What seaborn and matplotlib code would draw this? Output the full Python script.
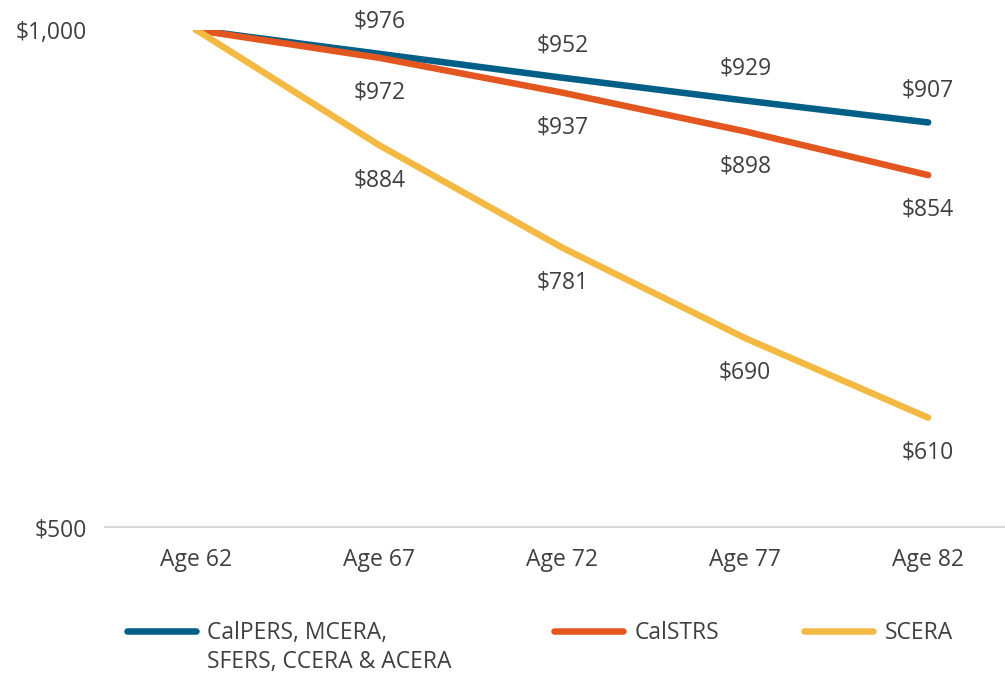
import matplotlib.pyplot as plt
import pandas as pd
import seaborn as sns

ages = ["Age 62", "Age 67", "Age 72", "Age 77", "Age 82"]
calpers = [1000, 976, 952, 929, 907]
calstrs = [1000, 972, 937, 898, 854]
scera = [1000, 884, 781, 690, 610]

series_names = ["CalPERS, MCERA,", "CalSTRS", "SCERA"]
first_extra_line = "SFERS, CCERA & ACERA"
colors = ["#005F87", "#E4561F", "#F4B942"]

df = pd.DataFrame({
    "age": ages * 3,
    "value": calpers + calstrs + scera,
    "series": [series_names[0]] * 5 + [series_names[1]] * 5 + [series_names[2]] * 5,
})

sns.set_theme(style="white")
plt.rcParams["font.family"] = ["Open Sans", "DejaVu Sans"]
FS = 16.5
TXT = "#404040"

fig = plt.figure(figsize=(10.05, 6.76), dpi=100)
ax = fig.add_axes([105 / 1005, 1 - 527 / 676, 900 / 1005, 497 / 676])

sns.lineplot(
    data=df, x="age", y="value", hue="series", palette=colors,
    linewidth=4.7, sort=False, ax=ax, legend=True,
)
for line in ax.get_lines():
    line.set_solid_capstyle("round")

# value labels: blue above, others below
offsets = [23, -25, -25]
for vals, off in zip([calpers, calstrs, scera], offsets):
    for i, v in enumerate(vals):
        if i == 0:
            continue
        ax.annotate(f"${v}", (i, v), xytext=(0, off), textcoords="offset points",
                    ha="center", va="center", fontsize=FS, color=TXT)

ax.set_xlim(-0.5, 4.42)
ax.set_ylim(500, 1000)
ax.set_yticks([500, 1000])
ax.set_yticklabels(["$500", "$1,000"])
ax.set_xlabel("")
ax.set_ylabel("")
ax.tick_params(axis="both", length=0, labelsize=FS, colors=TXT)
ax.tick_params(axis="x", pad=15)
ax.tick_params(axis="y", pad=13)
for s in ["top", "right", "left"]:
    ax.spines[s].set_visible(False)
ax.spines["bottom"].set_color("#d9d9d9")
ax.spines["bottom"].set_linewidth(1.5)

handles, labels = ax.get_legend_handles_labels()
ax.get_legend().remove()

# one legend per entry so each sits where the reference puts it
legend_x = [118, 545, 795]
legs = []
for h, lab, lx in zip(handles, labels, legend_x):
    leg = fig.legend([h], [lab], loc="center left", bbox_to_anchor=(lx / 1005, 1 - 633 / 676),
                     frameon=False, fontsize=FS, handlelength=3.0, handletextpad=0.5,
                     borderaxespad=0)
    for t in leg.get_texts():
        t.set_color(TXT)
    legs.append(leg)

# second line of the first legend label
fig.canvas.draw()
bb = legs[0].get_texts()[0].get_window_extent().transformed(fig.transFigure.inverted())
fig.text(bb.x0, 1 - 662 / 676, first_extra_line, fontsize=FS, color=TXT,
         ha="left", va="center")

fig.savefig("out.png", dpi=100)
